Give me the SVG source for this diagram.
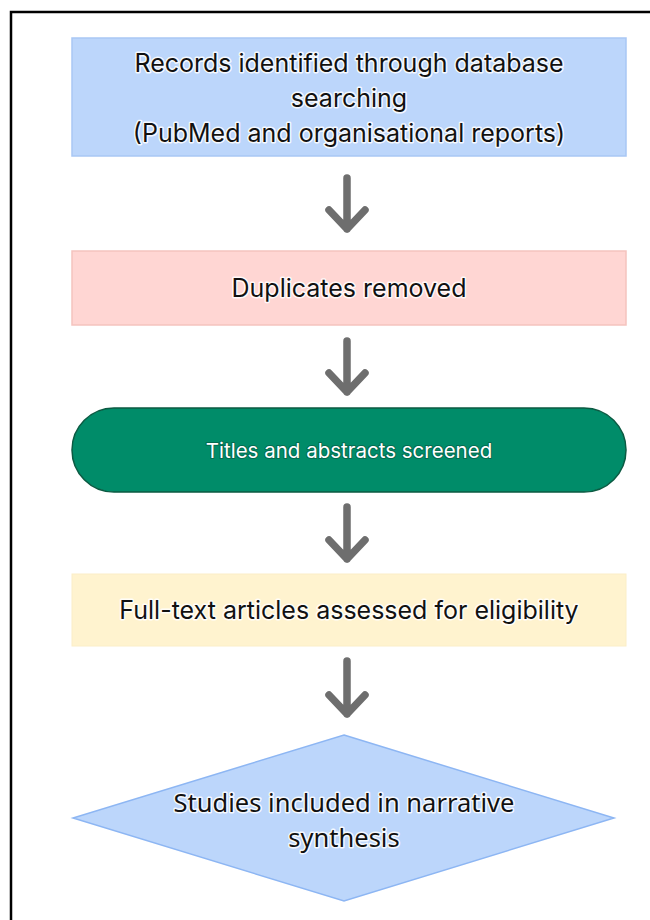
<svg xmlns="http://www.w3.org/2000/svg" width="650" height="920" viewBox="0 0 650 920">
  <style>
    .lbl { font-family: Inter, "Liberation Sans", sans-serif; font-size: 25px; fill: #111; text-anchor: middle; dominant-baseline: central; stroke: #ffffff; stroke-width: 3; stroke-opacity: 0.85; stroke-linejoin: round; paint-order: stroke; }
    .lblw { font-family: Inter, "Liberation Sans", sans-serif; font-size: 20.5px; fill: #ffffff; text-anchor: middle; dominant-baseline: central; stroke: #0a4a36; stroke-width: 2; stroke-opacity: 0.5; stroke-linejoin: round; paint-order: stroke; }
    .lbld { font-family: "Noto Sans", "Open Sans", sans-serif; font-size: 25.5px; fill: #111; text-anchor: middle; dominant-baseline: central; stroke: #ffffff; stroke-width: 3; stroke-opacity: 0.85; stroke-linejoin: round; paint-order: stroke; }
    .arrow { fill: none; stroke: #6e6e6e; stroke-width: 7.5; stroke-linecap: round; stroke-linejoin: round; }
  </style>
  <rect x="0" y="0" width="650" height="920" fill="#ffffff"/>
  <rect id="frame" x="11" y="12" width="660" height="940" fill="none" stroke="#000" stroke-width="2.5"/>

  <g id="node-records">
    <rect x="72" y="38" width="554" height="118" fill="#bcd6fb" stroke="#a9c7f5" stroke-width="1.5"/>
    <text class="lbl" x="349" y="63">Records identified through database</text>
    <text class="lbl" x="349" y="98">searching</text>
    <text class="lbl" x="349" y="133">(PubMed and organisational reports)</text>
  </g>

  <g id="node-duplicates">
    <rect x="72" y="251" width="554" height="74" fill="#ffd6d3" stroke="#f5c3be" stroke-width="1.5"/>
    <text class="lbl" x="349" y="288">Duplicates removed</text>
  </g>

  <g id="node-screened">
    <rect x="72" y="408" width="554" height="84" rx="42" ry="42" fill="#008c69" stroke="#0b5a42" stroke-width="1.5"/>
    <text class="lblw" x="349" y="450">Titles and abstracts screened</text>
  </g>

  <g id="node-fulltext">
    <rect x="72" y="574" width="554" height="72" fill="#fff3cf" stroke="#fbeec7" stroke-width="1"/>
    <text class="lbl" x="349" y="610">Full-text articles assessed for eligibility</text>
  </g>

  <g id="node-included">
    <polygon points="344,735 614,818 344,901 73,818" fill="#bcd6fb" stroke="#8db6f3" stroke-width="1.5"/>
    <text class="lbld" x="344" y="802">Studies included in narrative</text>
    <text class="lbld" x="344" y="837">synthesis</text>
  </g>

  <g id="connectors">
    <path class="arrow" d="M347,178 V229 M329,210 L347,229 L365,210"/>
    <path class="arrow" d="M347,341 V392 M329,373 L347,392 L365,373"/>
    <path class="arrow" d="M347,507 V559 M329,540 L347,559 L365,540"/>
    <path class="arrow" d="M347,661 V714 M329,695 L347,714 L365,695"/>
  </g>
</svg>
